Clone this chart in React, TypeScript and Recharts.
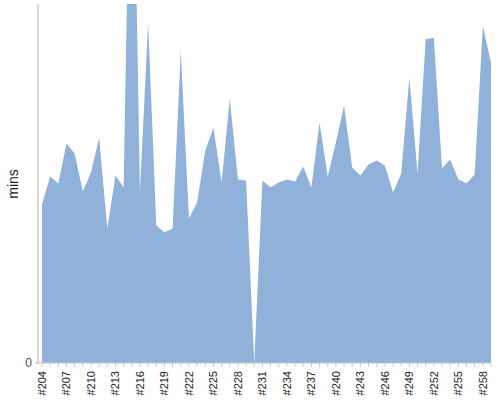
import React from 'react';
import { AreaChart, Area, XAxis, YAxis } from 'recharts';

const builds = [
  '#204', '#205', '#206', '#207', '#208', '#209', '#210', '#211', '#212', '#213',
  '#214', '#215', '#216', '#217', '#218', '#219', '#220', '#221', '#222', '#223',
  '#224', '#225', '#226', '#227', '#228', '#229', '#230', '#231', '#232', '#233',
  '#234', '#235', '#236', '#237', '#238', '#239', '#240', '#241', '#242', '#243',
  '#244', '#245', '#246', '#247', '#248', '#249', '#250', '#251', '#252', '#253',
  '#254', '#255', '#256', '#257', '#258', '#259',
];

const mins = [
  15.9, 18.7, 18.0, 22.0, 21.0, 17.2, 19.1, 22.6, 13.5, 18.8,
  17.6, 63.8, 17.2, 34.1, 13.8, 13.1, 13.5, 31.3, 14.5, 16.1,
  21.3, 23.6, 18.1, 26.5, 18.4, 18.3, 0, 18.3, 17.6, 18.1,
  18.4, 18.2, 19.7, 17.6, 24.1, 18.7, 22.1, 25.8, 19.6, 18.8,
  19.9, 20.3, 19.8, 17.1, 19.0, 28.6, 19.0, 32.5, 32.6, 19.5,
  20.4, 18.4, 18.0, 18.9, 33.8, 30.1,
];

const yTicks = [0];

const data = builds.map((build, i) => ({ build, mins: mins[i] }));

const font = 'Arial, "Liberation Sans", sans-serif';

const BuildTick = (props: any) => {
  const { x, y, payload } = props;
  const n = parseInt(String(payload.value).slice(1), 10);
  if ((n - 204) % 3 !== 0) return <g />;
  return (
    <text
      x={x}
      y={y}
      dy="0.35em"
      transform={`rotate(-90, ${x}, ${y})`}
      textAnchor="end"
      fontSize={11}
      fontFamily={font}
      fill="#222"
    >
      {payload.value}
    </text>
  );
};

const MinsLabel = () => (
  <text
    x={18}
    y={184}
    transform="rotate(-90, 18, 184)"
    textAnchor="middle"
    fontSize={14}
    fontFamily={font}
    fill="#222"
  >
    mins
  </text>
);

export default function App() {
  return (
    <div style={{ position: 'absolute', left: 0, top: 0 }}>
      <AreaChart width={500} height={400} data={data} margin={{ top: 4, right: 9, bottom: 0, left: 0 }}>
        <XAxis
          dataKey="build"
          interval={0}
          height={37}
          padding={{ left: 4, right: 0 }}
          tick={<BuildTick />}
          tickSize={4}
          tickMargin={4}
          stroke="#c8c8c8"
          tickLine={{ stroke: '#c8c8c8' }}
        />
        <YAxis
          width={38}
          domain={[0, 36]}
          ticks={yTicks}
          allowDataOverflow
          tickSize={3}
          tickMargin={3}
          stroke="#b4b4b4"
          tick={{ fontSize: 12, fill: '#555', fontFamily: font }}
          label={<MinsLabel />}
        />
        <Area
          type="linear"
          dataKey="mins"
          stroke="none"
          fill="#8fb1da"
          fillOpacity={1}
          isAnimationActive={false}
        />
      </AreaChart>
    </div>
  );
}
